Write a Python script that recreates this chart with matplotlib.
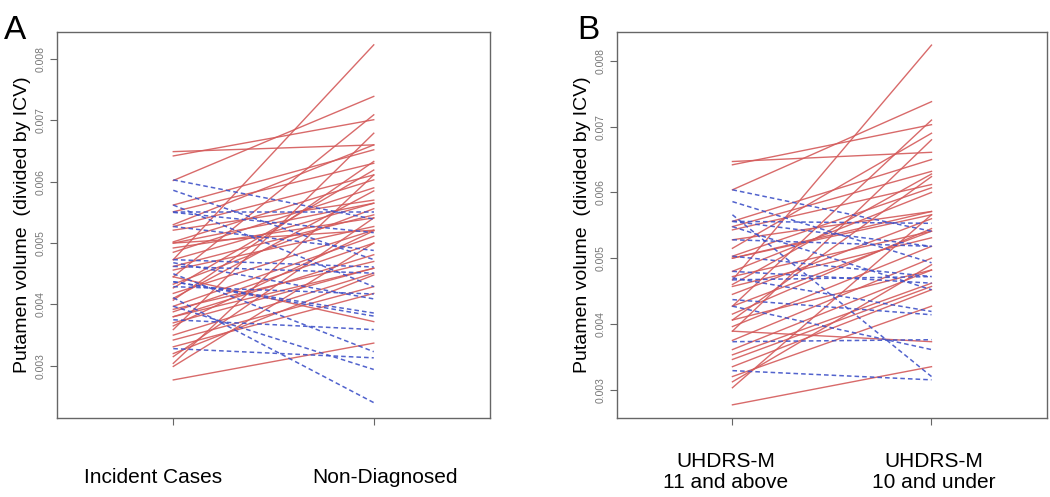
import matplotlib
matplotlib.use("Agg")
from matplotlib import pyplot as plt

plt.rcParams["font.family"] = ["Liberation Sans", "DejaVu Sans"]

# panel A: values at time 1 (x=1) and time 2 (x=2)
a_red_start = [0.00649, 0.00642, 0.00602, 0.00562, 0.00551, 0.00527, 0.00521, 0.00502,
               0.00500, 0.00492, 0.00473, 0.00456, 0.00445, 0.00427, 0.00418, 0.00407,
               0.00397, 0.00388, 0.00380, 0.00370, 0.00359, 0.00350, 0.00342, 0.00331,
               0.00315, 0.00304, 0.00299, 0.00277, 0.00445, 0.00500, 0.00473, 0.00380,
               0.00530, 0.00485, 0.00462, 0.00433, 0.00410, 0.00392, 0.00365, 0.00320]
a_red_end = [0.00660, 0.00701, 0.00739, 0.00652, 0.00630, 0.00611, 0.00570, 0.00603,
             0.00565, 0.00541, 0.00823, 0.00527, 0.00709, 0.00619, 0.00521, 0.00633,
             0.00511, 0.00500, 0.00481, 0.00459, 0.00679, 0.00451, 0.00429, 0.00418,
             0.00541, 0.00611, 0.00500, 0.00337, 0.00372, 0.00521, 0.00565, 0.00459,
             0.00660, 0.00590, 0.00546, 0.00556, 0.00585, 0.00470, 0.00520, 0.00448]
a_blue_start = [0.00603, 0.00586, 0.00562, 0.00551, 0.00550, 0.00527, 0.00473, 0.00468,
                0.00462, 0.00437, 0.00429, 0.00411, 0.00397, 0.00375, 0.00328, 0.00437,
                0.00450]
a_blue_end = [0.00539, 0.00473, 0.00429, 0.00551, 0.00517, 0.00488, 0.00461, 0.00409,
              0.00451, 0.00386, 0.00417, 0.00240, 0.00294, 0.00359, 0.00313, 0.00381,
              0.00323]

# panel B
b_red_start = [0.00647, 0.00642, 0.00604, 0.00556, 0.00548, 0.00543, 0.00528, 0.00503,
               0.00500, 0.00472, 0.00467, 0.00457, 0.00427, 0.00406, 0.00396, 0.00389,
               0.00361, 0.00353, 0.00346, 0.00320, 0.00303, 0.00277, 0.00389, 0.00406,
               0.00427, 0.00500, 0.00515, 0.00480, 0.00445, 0.00415, 0.00375, 0.00335,
               0.00460, 0.00312]
b_red_end = [0.00661, 0.00703, 0.00738, 0.00650, 0.00632, 0.00612, 0.00571, 0.00607,
             0.00566, 0.00541, 0.00824, 0.00531, 0.00710, 0.00624, 0.00518, 0.00680,
             0.00482, 0.00462, 0.00457, 0.00427, 0.00566, 0.00335, 0.00373, 0.00482,
             0.00541, 0.00571, 0.00690, 0.00600, 0.00560, 0.00545, 0.00500, 0.00452,
             0.00628, 0.00490]
b_blue_start = [0.00604, 0.00586, 0.00556, 0.00556, 0.00548, 0.00528, 0.00503, 0.00480,
                0.00470, 0.00467, 0.00437, 0.00427, 0.00373, 0.00329, 0.00566]
b_blue_end = [0.00541, 0.00493, 0.00553, 0.00518, 0.00452, 0.00518, 0.00472, 0.00462,
              0.00419, 0.00472, 0.00414, 0.00361, 0.00376, 0.00315, 0.00320]

a_labels = ["Incident Cases", "Non-Diagnosed"]
b_labels = ["UHDRS-M\n11 and above", "UHDRS-M\n10 and under"]
y_ticks = [0.003, 0.004, 0.005, 0.006, 0.007, 0.008]

red = "#d45a5a"
blue = "#3f52c8"


def draw_panel(ax, red_s, red_e, blue_s, blue_e, ylim):
    for s, e in zip(red_s, red_e):
        ax.plot([1, 2], [s, e], color=red, lw=1.0, alpha=0.9)
    for s, e in zip(blue_s, blue_e):
        ax.plot([1, 2], [s, e], color=blue, lw=1.1, ls=(0, (3, 2)), alpha=0.9)
    ax.set_xlim(0.42, 2.58)
    ax.set_ylim(*ylim)
    ax.set_xticks([1, 2])
    ax.set_xticklabels(["", ""])
    ax.set_yticks(y_ticks)
    ax.set_yticklabels(["%.3f" % t for t in y_ticks], rotation=90, va="center",
                       fontsize=7.5, color="#777777")
    ax.tick_params(length=5, color="#666666", width=0.8)
    for sp in ax.spines.values():
        sp.set_color("#666666")
        sp.set_linewidth(1.0)
    ax.set_ylabel("Putamen volume  (divided by ICV)", fontsize=14, labelpad=3)


fig = plt.figure(figsize=(10.5, 4.97), dpi=100)
ax_a = fig.add_axes([0.0543, 0.159, 0.4124, 0.7767])
ax_b = fig.add_axes([0.5876, 0.159, 0.4095, 0.7767])

draw_panel(ax_a, a_red_start, a_red_end, a_blue_start, a_blue_end, (0.00215, 0.00844))
draw_panel(ax_b, b_red_start, b_red_end, b_blue_start, b_blue_end, (0.00257, 0.00844))

# category labels sit well below the axes, a bit off the ticks
for x, lab in zip([0.9, 2.055], a_labels):
    ax_a.text(x, -0.155, lab, transform=ax_a.get_xaxis_transform(), ha="center",
              va="center", fontsize=15)
for x, lab in zip([0.965, 2.01], b_labels):
    ax_b.text(x, -0.14, lab, transform=ax_b.get_xaxis_transform(), ha="center",
              va="center", fontsize=15, linespacing=1.1)

fig.text(0.004, 0.97, "A", fontsize=24, va="top", ha="left")
fig.text(0.55, 0.97, "B", fontsize=24, va="top", ha="left")

fig.savefig("out.png", dpi=100)
